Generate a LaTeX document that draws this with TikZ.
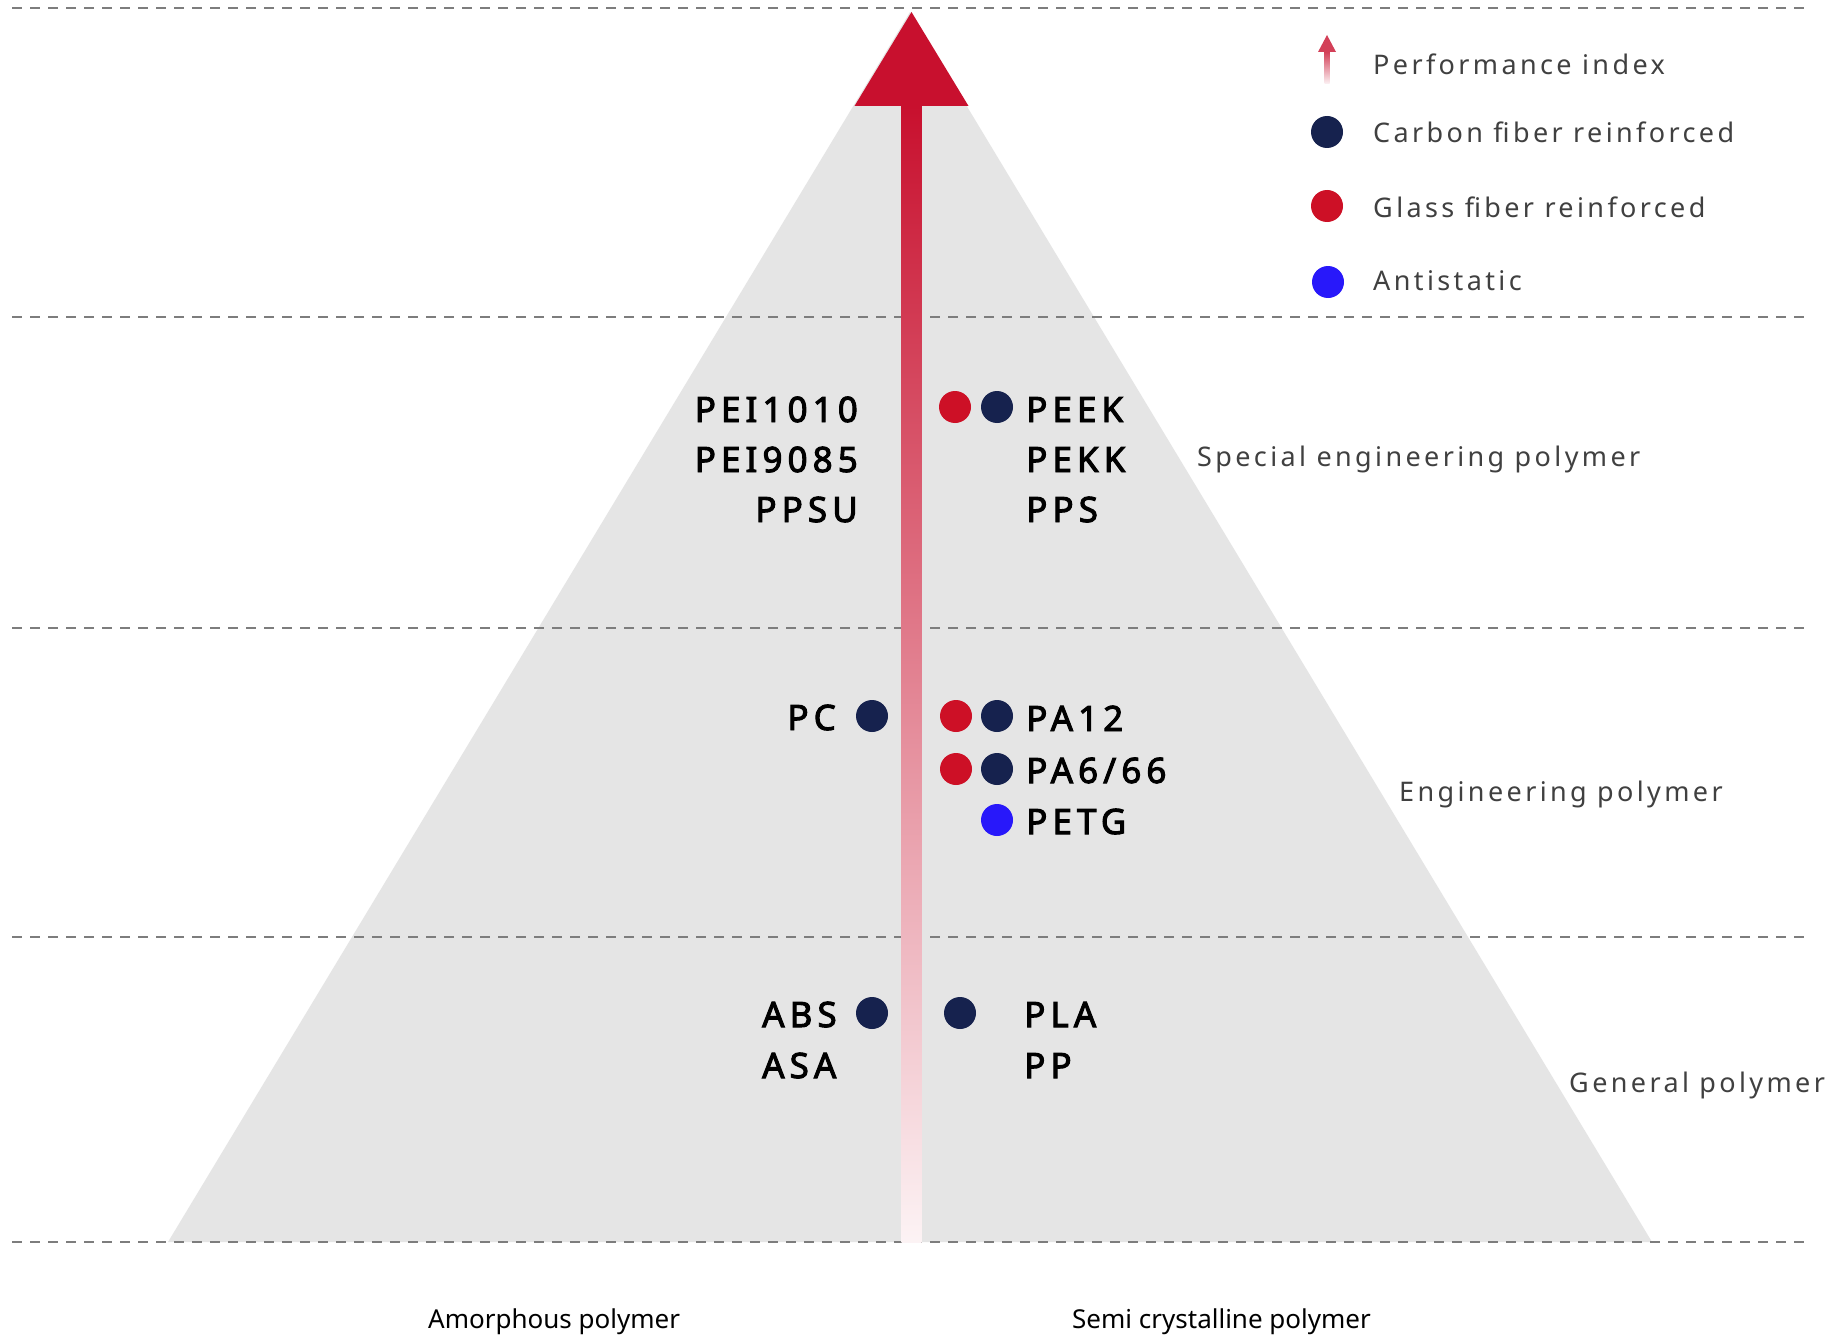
\documentclass[tikz,border=0pt]{standalone}
\usepackage{fontspec}
\setmainfont{Noto Sans}
\newfontfamily\trackfont[LetterSpace=12.5]{Noto Sans}
\newfontfamily\boldtrack[LetterSpace=14.5, FakeBold=2.8]{Noto Sans}
\usetikzlibrary{calc}
\definecolor{pyrgray}{RGB}{229,229,229}
\definecolor{dashgray}{RGB}{125,125,125}
\definecolor{arrowred}{RGB}{200,16,46}
\definecolor{navydot}{RGB}{22,34,78}
\definecolor{reddot}{RGB}{205,16,38}
\definecolor{bluedot}{RGB}{40,24,250}
\definecolor{captext}{RGB}{64,64,64}
\tikzset{
  guide/.style={draw=dashgray, line width=2pt, dash pattern=on 10pt off 8pt},
  fdot/.style={circle, inner sep=0pt, minimum size=32pt},
  matlab/.style={inner sep=0pt, font=\boldtrack\fontsize{35}{40}\selectfont, text=black},
  catlab/.style={inner sep=0pt, anchor=base west, font=\trackfont\fontsize{27}{32}\selectfont, text=captext},
  axislab/.style={inner sep=0pt, anchor=base west, font=\fontsize{26}{30}\selectfont, text=black},
}
\begin{document}
\begin{tikzpicture}[x=1pt,y=-1pt]
\useasboundingbox (0,0) rectangle (1843,1343);
\fill[white] (0,0) rectangle (1843,1343);
% pyramid
\coordinate (apex) at (910,12);
\coordinate (bl) at (168,1242);
\coordinate (br) at (1652,1242);
\fill[pyrgray] (apex) -- (bl) -- (br) -- cycle;
% guide lines
\foreach \yy in {8,317,628,937,1242}
  \draw[guide] (12,\yy) -- (1807,\yy);
% performance arrow
\coordinate (arrowbase) at (911.5,1242);
\coordinate (arrowneck) at (911.5,106);
\coordinate (arrowtip) at (911.5,12);
\shade[top color=arrowred, bottom color=arrowred!5] ($(arrowbase)+(-10,0)$) rectangle ($(arrowneck)+(10,0)$);
\fill[arrowred] (arrowtip) -- ($(arrowneck)+(-57,0)$) -- ($(arrowneck)+(57,0)$) -- cycle;
% legend
\coordinate (liconbase) at (1327,84);
\coordinate (liconneck) at (1327,52);
\coordinate (licontip) at (1327,35);
\shade[top color=arrowred!80, bottom color=arrowred!5] ($(liconbase)+(-2.5,0)$) rectangle ($(liconneck)+(2.5,0)$);
\fill[arrowred!80] (licontip) -- ($(liconneck)+(-9,0)$) -- ($(liconneck)+(9,0)$) -- cycle;
\node[catlab] (lperf) at (1373,75) {Performance index};
\node[fdot, fill=navydot] (lcf) at (1327,132) {};
\node[catlab] (lcft) at (1373,143) {Carbon fiber reinforced};
\node[fdot, fill=reddot] (lgf) at (1327,206) {};
\node[catlab] (lgft) at (1373,218) {Glass fiber reinforced};
\node[fdot, fill=bluedot] (las) at (1328,282) {};
\node[catlab] (last) at (1373,290) {Antistatic};
% category labels
\node[catlab] (cspec) at (1197,466) {Special engineering polymer};
\node[catlab] (ceng) at (1399,801) {Engineering polymer};
\node[catlab] (cgen) at (1569,1092) {General polymer};
% special engineering
\node[matlab, anchor=base east] (pei1010) at (858,422) {PEI1010};
\node[matlab, anchor=base east] (pei9085) at (858,472) {PEI9085};
\node[matlab, anchor=base east] (ppsu) at (858,522) {PPSU};
\node[fdot, fill=reddot] (peekg) at (955,407) {};
\node[fdot, fill=navydot] (peekc) at (997,407) {};
\node[matlab, anchor=base west] (peek) at (1026,422) {PEEK};
\node[matlab, anchor=base west] (pekk) at (1026,472) {PEKK};
\node[matlab, anchor=base west] (pps) at (1026,522) {PPS};
% engineering
\node[matlab, anchor=base east] (pc) at (836,730) {PC};
\node[fdot, fill=navydot] (pcc) at (872,716) {};
\node[fdot, fill=reddot] (pa12g) at (956,716) {};
\node[fdot, fill=navydot] (pa12c) at (997,716) {};
\node[matlab, anchor=base west] (pa12) at (1026,731) {PA12};
\node[fdot, fill=reddot] (pa6g) at (956,769) {};
\node[fdot, fill=navydot] (pa6c) at (997,769) {};
\node[matlab, anchor=base west] (pa6) at (1026,783) {PA6/66};
\node[fdot, fill=bluedot] (petga) at (997,820) {};
\node[matlab, anchor=base west] (petg) at (1026,834) {PETG};
% general
\node[matlab, anchor=base west] (abs) at (762,1027) {ABS};
\node[matlab, anchor=base west] (asa) at (762,1078) {ASA};
\node[fdot, fill=navydot] (absc) at (872,1013) {};
\node[fdot, fill=navydot] (plac) at (960,1013) {};
\node[matlab, anchor=base west] (pla) at (1024,1027) {PLA};
\node[matlab, anchor=base west] (pp) at (1024,1078) {PP};
% bottom labels
\node[axislab] (amor) at (428,1328) {Amorphous polymer};
\node[axislab] (semi) at (1072,1328) {Semi crystalline polymer};
\end{tikzpicture}
\end{document}
